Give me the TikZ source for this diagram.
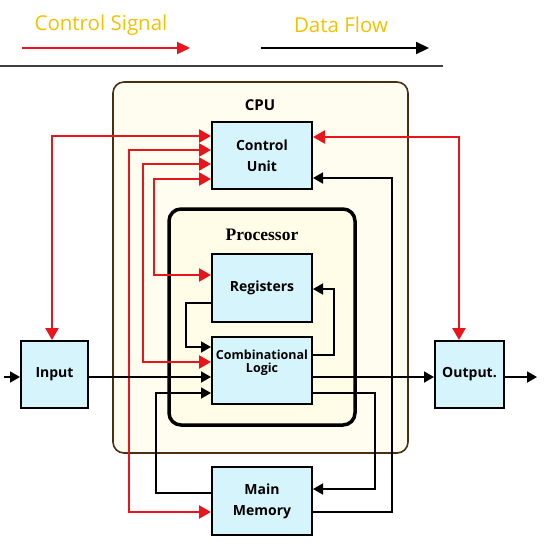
\documentclass[tikz,border=0pt]{standalone}
\usepackage{fontspec}
\setmainfont{Open Sans}
\newfontfamily\legendfont{Open Sans}
\newfontfamily\procfont{Liberation Serif}
\usetikzlibrary{arrows.meta}
\definecolor{boxfill}{HTML}{D6F4FC}
\definecolor{sigred}{HTML}{E8161C}
\definecolor{legendgold}{HTML}{F2C200}
\definecolor{cpufill}{HTML}{FFFCF0}
\definecolor{procfill}{HTML}{FFFDE8}
\definecolor{cpuborder}{HTML}{4A3010}
\begin{document}
\begin{tikzpicture}[x=1pt,y=-1pt,
  unitbox/.style={draw=black,line width=2pt,fill=boxfill,inner sep=0pt,
    minimum width=100pt,minimum height=67pt,align=center,
    font=\bfseries\fontsize{14}{21}\selectfont},
  ctrlline/.style={draw=sigred,line width=2.4pt,
    arrows={-Triangle[length=12pt,width=13pt]}},
  ctrlboth/.style={ctrlline,arrows={Triangle[length=12pt,width=13pt]-Triangle[length=12pt,width=13pt]}},
  dataline/.style={draw=black,line width=1.8pt,
    arrows={-Triangle[length=10pt,width=11pt]}},
  legendtext/.style={text=legendgold,font=\legendfont\fontsize{20.5}{20.5}\selectfont}
]
\useasboundingbox (0,0) rectangle (553,544);
% legend
\node[legendtext] (lctrl) at (101,25) {Control Signal};
\node[legendtext] (ldata) at (341,25) {Data Flow};
\coordinate (la1) at (22,48); \coordinate (la2) at (190,48);
\coordinate (lb1) at (261,48); \coordinate (lb2) at (429,48);
\draw[ctrlline,arrows={-Triangle[length=13pt,width=12pt]}] (la1) -- (la2);
\draw[dataline,line width=2.2pt,arrows={-Triangle[length=13pt,width=12pt]}] (lb1) -- (lb2);
\coordinate (sep1) at (0,66); \coordinate (sep2) at (443,66);
\draw[line width=1.6pt,draw=black!75] (sep1) -- (sep2);
% containers
\draw[draw=cpuborder,line width=1.6pt,fill=cpufill,rounded corners=11pt] (113,82) rectangle (408,453);
\node[font=\bfseries\fontsize{15}{15}\selectfont] (cpulabel) at (260,105) {CPU};
\draw[draw=black,line width=3.5pt,fill=procfill,rounded corners=12pt] (169,209) rectangle (355,425);
\node[font=\procfont\bfseries\fontsize{17.5}{17.5}\selectfont] (proclabel) at (262,235) {Processor};
% boxes
\node[unitbox] (CU) at (262,155.5) {Control\\Unit};
\node[unitbox,minimum height=68pt] (Reg) at (262,288) {Registers};
\node[unitbox] (CL) at (262,370.5) {};
\node[font=\bfseries\fontsize{12.5}{12.5}\selectfont,align=center,inner sep=0pt] (CLtext) at ([yshift=8pt]CL.center) {Combinational\\Logic};
\node[unitbox,minimum height=68pt] (MM) at (262,501) {Main\\Memory};
\node[unitbox,minimum width=67pt] (In) at (54.5,374.5) {Input};
\node[unitbox,minimum width=69pt] (Out) at (469.5,374.5) {Output.};
% control signals
\draw[ctrlboth] (In.north -| 52,0) |- (CU.west |- 0,136);
\draw[ctrlboth] (CU.west |- 0,150) -- (129,150) -- (129,512) -- (MM.west |- 0,512);
\draw[ctrlboth] (CU.west |- 0,164) -- (143,164) -- (143,362) -- (CL.west |- 0,362);
\draw[ctrlboth] (CU.west |- 0,179) -- (154,179) -- (154,275) -- (Reg.west |- 0,275);
\draw[ctrlboth] (CU.east |- 0,137) -| (Out.north -| 459,0);
% data flow
\coordinate (inbeg) at (4,377);
\coordinate (outend) at (537,377);
\draw[dataline] (inbeg) -- (In.west |- 0,377);
\draw[dataline] (In.east |- 0,377) -- (CL.west |- 0,377);
\draw[dataline] (CL.east |- 0,377) -- (Out.west |- 0,377);
\draw[dataline] (Out.east |- 0,377) -- (outend);
\draw[dataline] (MM.east |- 0,512) -- (392,512) -- (392,178) -- (CU.east |- 0,178);
\draw[dataline] (CL.east |- 0,393) -- (375,393) -- (375,489) -- (MM.east |- 0,489);
\draw[dataline] (MM.west |- 0,493) -- (156,493) -- (156,393) -- (CL.west |- 0,393);
\draw[dataline] (Reg.west |- 0,303) -- (186,303) -- (186,347) -- (CL.west |- 0,347);
\draw[dataline] (CL.east |- 0,355) -- (334,355) -- (334,289) -- (Reg.east |- 0,289);
\end{tikzpicture}
\end{document}
